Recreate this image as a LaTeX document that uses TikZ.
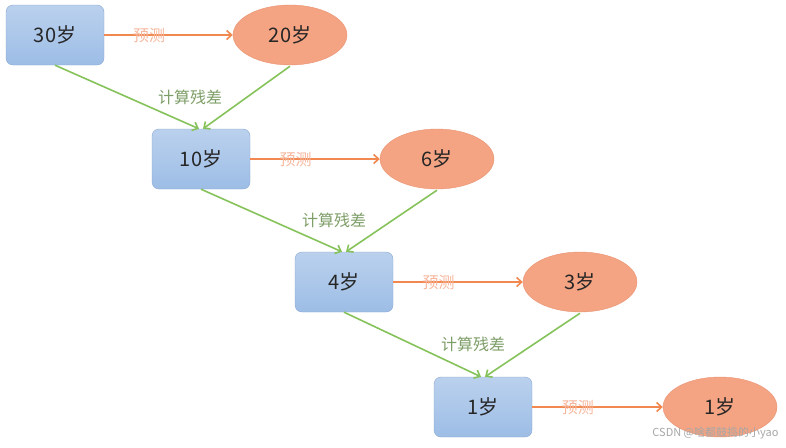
\documentclass[tikz,border=0pt]{standalone}
\usepackage{fontspec}
\setmainfont{Noto Sans CJK SC}
\usetikzlibrary{shapes.geometric,arrows.meta}
\definecolor{bfill}{HTML}{9DBDE6}
\definecolor{bdraw}{HTML}{8AA8D0}
\definecolor{efill}{HTML}{F4A483}
\definecolor{edraw}{HTML}{E89372}
\definecolor{oline}{HTML}{F08850}
\definecolor{gline}{HTML}{86C25A}
\definecolor{gtext}{HTML}{7E9E68}
\begin{document}
\begin{tikzpicture}[x=1pt,y=-1pt,
  boxn/.style={draw=bdraw,rounded corners=7pt,top color=bfill!70,bottom color=bfill,minimum width=98pt,minimum height=60pt,font=\fontsize{20}{22}\selectfont,text=black!85},
  elln/.style={ellipse,draw=edraw,fill=efill,minimum width=114pt,minimum height=60pt,inner sep=0pt,font=\fontsize{20}{22}\selectfont,text=black!85},
  pred/.style={draw=oline,line width=1.6pt,-{Straight Barb[length=5pt,width=9pt]}},
  resi/.style={draw=gline,line width=1.6pt,-{Straight Barb[length=5pt,width=9pt]}},
  plab/.style={text=efill!80,font=\fontsize{16}{18}\selectfont},
  rlab/.style={text=gtext,font=\fontsize{16}{18}\selectfont}]
\useasboundingbox (0,0) rectangle (786,447);
\node[boxn] (b1) at (55,35) {30岁};
\node[elln] (e1) at (290,35) {20岁};
\node[boxn] (b2) at (201,159) {10岁};
\node[elln] (e2) at (437,159) {6岁};
\node[boxn] (b3) at (344,282) {4岁};
\node[elln] (e3) at (580,282) {3岁};
\node[boxn] (b4) at (483,407) {1岁};
\node[elln] (e4) at (720,407) {1岁};
\foreach \b/\e in {b1/e1,b2/e2,b3/e3,b4/e4}{
  \draw[pred] (\b.east) -- (\e.west) node[plab,pos=0.35]{预测};
}
\foreach \b/\e/\n in {b1/e1/b2,b2/e2/b3,b3/e3/b4}{
  \draw[resi] ([xshift=0pt]\b.south) -- ([xshift=-2pt]\n.north);
  \draw[resi] ([yshift=-1pt]\e.south) -- ([xshift=2pt]\n.north);
}
\node[rlab] (r1) at (190,97) {计算残差};
\node[rlab] (r2) at (334,220) {计算残差};
\node[rlab] (r3) at (473,344) {计算残差};
\node[text=black!35,font=\fontsize{11}{13}\selectfont,anchor=east] (wm) at (782,433) {CSDN @啥都鼓捣的小yao};
\end{tikzpicture}
\end{document}
